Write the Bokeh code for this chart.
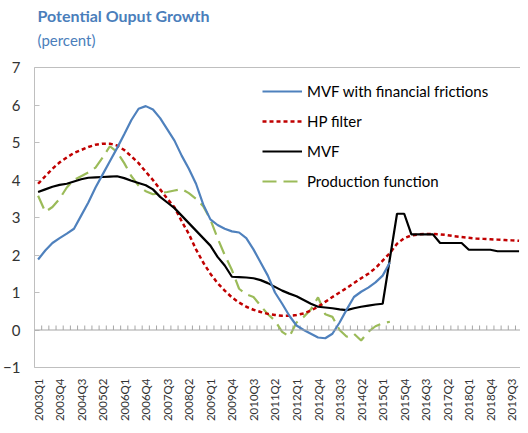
import numpy as np
from bokeh.plotting import figure
from bokeh.models import (Range1d, FixedTicker, LinearAxis, Legend, LegendItem,
                          Title, Span)
from bokeh.embed import file_html
from bokeh.resources import INLINE

# ---------------- data ----------------
# quarter index 0 = 2003Q1
tick_index = [0, 3, 6, 9, 12, 15, 18, 21, 24, 27, 30, 33, 36, 39, 42, 45, 48,
              51, 54, 57, 60, 63, 66]
tick_labels = ["2003Q1", "2003Q4", "2004Q3", "2005Q2", "2006Q1", "2006Q4",
               "2007Q3", "2008Q2", "2009Q1", "2009Q4", "2010Q3", "2011Q2",
               "2012Q1", "2012Q4", "2013Q3", "2014Q2", "2015Q1", "2015Q4",
               "2016Q3", "2017Q2", "2018Q1", "2018Q4", "2019Q3"]
n_quarters = 68

mvf_ff = [1.88, 2.12, 2.32, 2.45, 2.57, 2.70, 3.05, 3.40, 3.80, 4.15,
          4.50, 4.85, 5.22, 5.60, 5.90, 5.97, 5.88, 5.65, 5.35, 5.05,
          4.65, 4.30, 3.90, 3.35, 2.95, 2.80, 2.70, 2.63, 2.60, 2.45,
          2.15, 1.80, 1.45, 1.00, 0.70, 0.38, 0.12, 0.00, -0.10, -0.20,
          -0.22, -0.10, 0.20, 0.55, 0.88, 1.02, 1.13, 1.27, 1.45, 1.80]

hp_filter = [3.90, 4.10, 4.30, 4.47, 4.60, 4.72, 4.80, 4.88, 4.94, 4.97,
             4.97, 4.92, 4.80, 4.63, 4.45, 4.22, 4.00, 3.75, 3.50, 3.27,
             2.90, 2.56, 2.15, 1.80, 1.50, 1.25, 1.05, 0.87, 0.73, 0.62,
             0.54, 0.48, 0.43, 0.40, 0.38, 0.38, 0.40, 0.44, 0.52, 0.62,
             0.75, 0.88, 1.00, 1.12, 1.25, 1.38, 1.50, 1.65, 1.85, 2.05,
             2.30, 2.45, 2.52, 2.55, 2.56, 2.56, 2.55, 2.53, 2.50, 2.48,
             2.46, 2.44, 2.43, 2.42, 2.41, 2.40, 2.39, 2.38]

mvf = [3.68, 3.75, 3.82, 3.87, 3.90, 3.96, 4.02, 4.06, 4.07, 4.08,
       4.09, 4.10, 4.05, 3.98, 3.92, 3.86, 3.75, 3.55, 3.40, 3.25,
       3.05, 2.85, 2.65, 2.45, 2.25, 1.95, 1.72, 1.42, 1.41, 1.40,
       1.38, 1.33, 1.25, 1.15, 1.05, 0.97, 0.90, 0.80, 0.70, 0.62,
       0.60, 0.58, 0.55, 0.53, 0.58, 0.62, 0.65, 0.68, 0.70, 1.90,
       3.10, 3.10, 2.55, 2.55, 2.55, 2.55, 2.32, 2.32, 2.32, 2.32,
       2.14, 2.14, 2.14, 2.14, 2.10, 2.10, 2.10, 2.10]

prod_fn = [3.58, 3.15, 3.28, 3.50, 3.80, 4.00, 4.10, 4.20, 4.33, 4.60,
           4.90, 4.75, 4.45, 4.10, 3.85, 3.70, 3.62, 3.65, 3.68, 3.72,
           3.76, 3.65, 3.50, 3.30, 2.95, 2.45, 2.00, 1.60, 1.10, 0.95,
           0.88, 0.65, 0.42, 0.25, -0.05, -0.18, 0.20, 0.35, 0.55, 0.87,
           0.42, 0.35, 0.00, -0.18, -0.10, -0.28, -0.05, 0.10, 0.18, 0.22]

# ---------------- styling ----------------
FONT = "Lato"
AXIS_GRAY = "#BFBFBF"
TEXT = "#333333"
TITLE_BLUE = "#4A7EBB"

p = figure(width=520, height=425, output_backend="svg", toolbar_location=None,
           title=None, x_range=Range1d(-0.5, 67.2), y_range=Range1d(-1, 7),
           min_border_left=30, min_border_right=0, min_border_bottom=58,
           min_border_top=0)
p.outline_line_color = None
p.grid.visible = False
p.background_fill_color = "white"

# x axis (labels at the bottom)
xax = p.xaxis[0]
xax.ticker = FixedTicker(ticks=tick_index)
xax.major_label_overrides = {i: s for i, s in zip(tick_index, tick_labels)}
xax.major_label_orientation = np.pi / 2
xax.major_tick_line_color = None
xax.major_tick_in = 0
xax.major_tick_out = 0
xax.minor_tick_line_color = None
xax.minor_tick_in = 0
xax.minor_tick_out = 0
xax.axis_line_color = AXIS_GRAY
xax.major_label_standoff = 11
xax.major_label_text_font = FONT
xax.major_label_text_font_size = "11.5px"
xax.major_label_text_color = TEXT

# y axis
yax = p.yaxis[0]
yax.ticker = FixedTicker(ticks=list(range(-1, 8)))
yax.major_tick_in = 5
yax.major_tick_out = 0
yax.major_tick_line_color = AXIS_GRAY
yax.minor_tick_line_color = None
yax.minor_tick_in = 0
yax.minor_tick_out = 0
yax.axis_line_color = AXIS_GRAY
yax.major_label_standoff = 14
yax.major_label_text_font = FONT
yax.major_label_text_font_size = "15px"
yax.major_label_text_color = TEXT

# top border line
top_ax = LinearAxis(ticker=FixedTicker(ticks=[]), axis_line_color=AXIS_GRAY,
                    major_tick_line_color=None, minor_tick_line_color=None,
                    major_tick_in=0, major_tick_out=0, minor_tick_in=0,
                    minor_tick_out=0, major_label_standoff=0,
                    major_label_text_font_size="0px")
p.add_layout(top_ax, "above")

# spacer between the subtitle and the plot frame
p.add_layout(Title(text=" ", text_font=FONT, text_font_size="2px",
                   standoff=14), "above")
p.add_layout(Title(text="(percent)", text_font=FONT, text_font_size="15px",
                   text_font_style="normal", text_color=TITLE_BLUE,
                   align="left", offset=3, standoff=2), "above")
p.add_layout(Title(text="Potential Ouput Growth", text_font=FONT,
                   text_font_size="16px", text_font_style="bold",
                   text_color=TITLE_BLUE, align="left", offset=3, standoff=6),
             "above")

# zero line with quarter tick marks
p.add_layout(Span(location=0, dimension="width", line_color="#A6A6A6",
                  line_width=1))
qb = [i + 0.5 for i in range(n_quarters)]
p.segment(x0=qb, y0=[0] * n_quarters, x1=qb, y1=[0.12] * n_quarters,
          line_color="#A6A6A6", line_width=1)

# series
r_green = p.line(list(range(len(prod_fn))), prod_fn, line_color="#9BBB59",
                 line_width=2.2, line_dash="14 7")
r_red = p.line(list(range(len(hp_filter))), hp_filter, line_color="#C00000",
               line_width=2.5, line_dash="4 3")
r_black = p.line(list(range(len(mvf))), mvf, line_color="black", line_width=2.2)
r_blue = p.line(list(range(len(mvf_ff))), mvf_ff, line_color="#4F81BD",
                line_width=2.2)

legend = Legend(items=[
    LegendItem(label="MVF with financial frictions", renderers=[r_blue]),
    LegendItem(label="HP filter", renderers=[r_red]),
    LegendItem(label="MVF", renderers=[r_black]),
    LegendItem(label="Production function", renderers=[r_green]),
], location=(228, 176), border_line_color=None, background_fill_alpha=0,
    glyph_width=40, glyph_height=20, label_height=20, spacing=10, padding=0,
    margin=0, label_standoff=5, label_text_font=FONT,
    label_text_font_size="15px", label_text_color="black")
p.add_layout(legend)

open("out.html", "w").write(file_html(p, INLINE))
